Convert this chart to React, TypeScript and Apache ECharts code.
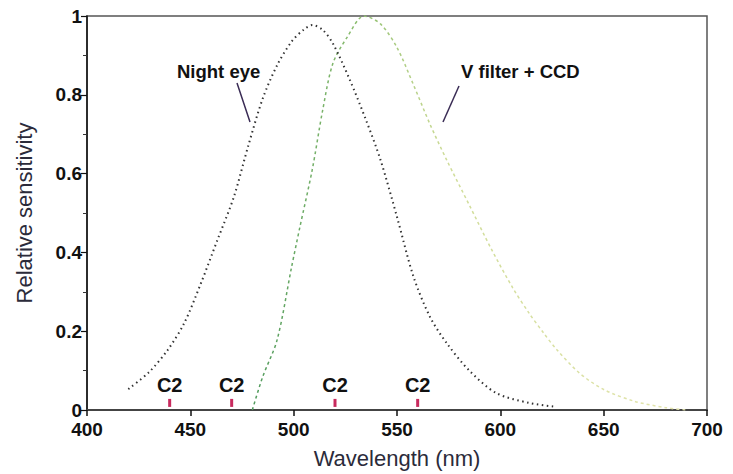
import React, { useEffect, useRef } from "react";
import * as echarts from "echarts";

// Night eye (scotopic) sensitivity
const nightWavelengths = [420, 430, 439, 447, 455, 463, 471, 478, 485, 492, 499, 505, 509, 514, 519, 527, 535, 542, 550, 558, 566, 574, 585, 598, 614, 627];
const nightValues = [0.053, 0.096, 0.152, 0.22, 0.32, 0.43, 0.54, 0.67, 0.79, 0.875, 0.935, 0.966, 0.977, 0.965, 0.93, 0.84, 0.736, 0.635, 0.49, 0.338, 0.236, 0.17, 0.1, 0.043, 0.018, 0.008];

// V filter + CCD sensitivity
const vWavelengths = [480, 485, 492, 499, 503, 509, 514, 519, 526, 534, 542, 550, 558, 566, 574, 585, 596, 606, 614, 621, 627, 638, 650, 665, 680, 690];
const vValues = [0.0, 0.084, 0.178, 0.363, 0.464, 0.61, 0.76, 0.88, 0.947, 1.0, 0.98, 0.92, 0.825, 0.725, 0.635, 0.52, 0.405, 0.31, 0.245, 0.195, 0.155, 0.095, 0.052, 0.022, 0.006, 0.0];

// C2 markers
const c2Wavelengths = [440, 470, 520, 560];
const c2Level = 0.018;
const c2Label = "C2";

const xTicks = { min: 400, max: 700, interval: 50 };
const yTicks = { min: 0, max: 1, interval: 0.2 };

const FONT = "'Liberation Sans', Arial, Helvetica, sans-serif";

export default function App() {
  const ref = useRef<HTMLDivElement>(null);
  useEffect(() => {
    if (!ref.current) return;
    const chart = echarts.init(ref.current, null, { renderer: "svg" });
    const zip = (xs: number[], ys: number[]) => xs.map((x, i) => [x, ys[i]]);
    chart.setOption({
      animation: false,
      backgroundColor: "#ffffff",
      grid: {
        left: 87,
        right: 26,
        top: 16,
        bottom: 64,
        show: true,
        borderColor: "#555",
        borderWidth: 1.5,
      },
      xAxis: {
        type: "value",
        min: xTicks.min,
        max: xTicks.max,
        interval: xTicks.interval,
        name: "Wavelength (nm)",
        nameLocation: "middle",
        nameGap: 37,
        nameTextStyle: { fontFamily: FONT, fontSize: 22, color: "#2b2b3a" },
        axisLine: { lineStyle: { color: "#444", width: 2 } },
        axisTick: { show: true, inside: false, length: 6, lineStyle: { color: "#111", width: 1.5 } },
        axisLabel: { fontFamily: FONT, fontSize: 19, lineHeight: 18, fontWeight: "bold", color: "#111", margin: 10 },
        splitLine: { show: false },
      },
      yAxis: {
        type: "value",
        min: yTicks.min,
        max: yTicks.max,
        interval: yTicks.interval,
        name: "Relative sensitivity",
        nameLocation: "middle",
        nameGap: 52,
        nameTextStyle: { fontFamily: FONT, fontSize: 22, color: "#2b2b3a" },
        axisLine: { show: true, lineStyle: { color: "#111", width: 1.5 } },
        axisTick: { show: true, inside: false, length: 6, lineStyle: { color: "#111", width: 1.2 } },
        minorTick: { show: true, splitNumber: 2, length: 4, lineStyle: { color: "#333", width: 1 } },
        axisLabel: { fontFamily: FONT, fontSize: 19, lineHeight: 16, fontWeight: "bold", color: "#111", margin: 5 },
        splitLine: { show: false },
      },
      series: [
        {
          name: "Night eye",
          type: "line",
          data: zip(nightWavelengths, nightValues),
          smooth: 0.3,
          showSymbol: false,
          lineStyle: { color: "#333", width: 2, type: [1.5, 3.5] },
          z: 3,
        },
        {
          name: "V filter+CCD",
          type: "line",
          data: zip(vWavelengths, vValues),
          smooth: 0.3,
          showSymbol: false,
          lineStyle: {
            width: 1.5,
            type: [3, 3],
            color: new echarts.graphic.LinearGradient(0, 0, 1, 0, [
              { offset: 0, color: "#4f9a5c" },
              { offset: 0.25, color: "#8fbf70" },
              { offset: 0.45, color: "#cfdc98" },
              { offset: 1, color: "#e4e5ae" },
            ]),
          },
          z: 2,
        },
        {
          name: "C2",
          type: "scatter",
          data: c2Wavelengths.map((w) => [w, c2Level]),
          symbol: "rect",
          symbolSize: [3, 8],
          itemStyle: { color: "#c82a5e", opacity: 1 },
          label: {
            show: true,
            position: "top",
            distance: 4,
            formatter: () => c2Label,
            fontFamily: FONT,
            fontSize: 20,
            fontWeight: "bold",
            color: "#111",
          },
          z: 4,
        },
      ],
      graphic: [
        {
          type: "text",
          left: 177,
          top: 62,
          style: { text: "Night eye", font: `bold 18.5px ${FONT}`, fill: "#111" },
        },
        {
          type: "line",
          shape: { x1: 237, y1: 83, x2: 250, y2: 122 },
          style: { stroke: "#3a2c55", lineWidth: 1.5 },
        },
        {
          type: "text",
          left: 461,
          top: 62,
          style: { text: "V filter + CCD", font: `bold 18.5px ${FONT}`, fill: "#111" },
        },
        {
          type: "line",
          shape: { x1: 459, y1: 86, x2: 443, y2: 122 },
          style: { stroke: "#3a2c55", lineWidth: 1.5 },
        },
      ],
    });
    return () => chart.dispose();
  }, []);
  return (
    <div
      ref={ref}
      style={{ position: "absolute", left: 0, top: 0, width: 733, height: 474 }}
    />
  );
}
